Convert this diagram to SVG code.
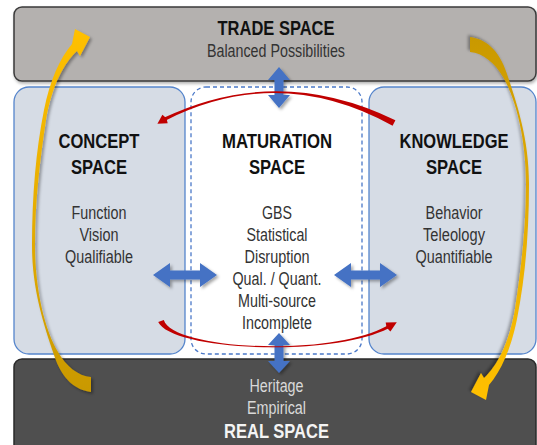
<svg xmlns="http://www.w3.org/2000/svg" xmlns:xlink="http://www.w3.org/1999/xlink" width="537" height="445" viewBox="0 0 537 445">
<defs>
<style>
.hdr{font-family:"Liberation Sans Narrow","Liberation Sans",Arial,sans-serif;font-weight:bold;font-size:20px;fill:#111;text-anchor:middle}
.body{font-family:"Liberation Sans Narrow","Liberation Sans",Arial,sans-serif;font-size:17.5px;fill:#333;text-anchor:middle}
.lite{fill:#d9d9d9}
.white{fill:#f4f4f4}
.side{fill:#d6dce5;stroke:#5585cc;stroke-width:1.3}
.mid{fill:#ffffff;stroke:#4a78c8;stroke-width:1.3;stroke-dasharray:4 3}
.blue{fill:#4472c4;filter:url(#sh)}
.red{fill:#c00000}
</style>
<filter id="sh" x="-20%" y="-20%" width="150%" height="150%">
<feDropShadow dx="2" dy="2" stdDeviation="1.5" flood-color="#000" flood-opacity="0.35"/>
</filter>
<filter id="bsh" x="-5%" y="-5%" width="110%" height="120%">
<feDropShadow dx="1" dy="2" stdDeviation="1.5" flood-color="#000" flood-opacity="0.3"/>
</filter>
<linearGradient id="gold" gradientUnits="userSpaceOnUse" x1="0" y1="30" x2="0" y2="392">
<stop offset="0" stop-color="#ffc000"/>
<stop offset="0.5" stop-color="#e6ad00"/>
<stop offset="1" stop-color="#c99900"/>
</linearGradient>
<path id="yarrow" d="M90,37 L80,56 L77,51 C64,63 52,85 46,120 C40,160 35,200 35,245 C35,290 45,330 58,352 C66,366 78,376 91,377 L91,392 C76,390 62,380 54,355 C44,325 32,290 32,245 C32,195 36,150 44,110 C50,80 60,58 72,44 L75,29 Z"/>
</defs>

<g id="trade">
<rect x="14" y="7" width="522" height="74" rx="8" fill="#b4b1af" stroke="#3a3a3a" stroke-width="1.5" filter="url(#bsh)"/>
<text class="hdr" x="276" y="35" textLength="117" lengthAdjust="spacingAndGlyphs">TRADE SPACE</text>
<text class="body" x="276" y="57" textLength="138" lengthAdjust="spacingAndGlyphs">Balanced Possibilities</text>
</g>

<g id="real">
<rect x="14" y="359" width="522" height="94" rx="8" fill="#4f4f4f" stroke="#2a2a2a" stroke-width="1.5"/>
<text class="body lite" x="276.5" y="392" textLength="54" lengthAdjust="spacingAndGlyphs">Heritage</text>
<text class="body lite" x="276.5" y="414" textLength="59" lengthAdjust="spacingAndGlyphs">Empirical</text>
<text class="hdr white" x="276.5" y="438" textLength="105" lengthAdjust="spacingAndGlyphs">REAL SPACE</text>
</g>

<g id="concept">
<rect class="side" x="14" y="87" width="171" height="267" rx="15"/>
<text class="hdr" x="99" y="147.5" textLength="81" lengthAdjust="spacingAndGlyphs">CONCEPT</text>
<text class="hdr" x="99" y="174" textLength="56" lengthAdjust="spacingAndGlyphs">SPACE</text>
<text class="body" x="99" y="218.5" textLength="55" lengthAdjust="spacingAndGlyphs">Function</text>
<text class="body" x="99" y="240.5" textLength="39" lengthAdjust="spacingAndGlyphs">Vision</text>
<text class="body" x="99" y="262.5" textLength="68" lengthAdjust="spacingAndGlyphs">Qualifiable</text>
</g>

<g id="maturation">
<rect class="mid" x="191" y="87" width="171" height="267" rx="15"/>
<text class="hdr" x="277" y="147.5" textLength="110" lengthAdjust="spacingAndGlyphs">MATURATION</text>
<text class="hdr" x="277" y="174" textLength="56" lengthAdjust="spacingAndGlyphs">SPACE</text>
<text class="body" x="277" y="218.5" textLength="30" lengthAdjust="spacingAndGlyphs">GBS</text>
<text class="body" x="277" y="240.5" textLength="61" lengthAdjust="spacingAndGlyphs">Statistical</text>
<text class="body" x="277" y="262.5" textLength="65" lengthAdjust="spacingAndGlyphs">Disruption</text>
<text class="body" x="277" y="284.5" textLength="89" lengthAdjust="spacingAndGlyphs">Qual. / Quant.</text>
<text class="body" x="277" y="306.5" textLength="78" lengthAdjust="spacingAndGlyphs">Multi-source</text>
<text class="body" x="277" y="328.5" textLength="70" lengthAdjust="spacingAndGlyphs">Incomplete</text>
</g>

<g id="knowledge">
<rect class="side" x="369" y="87" width="167" height="267" rx="15"/>
<text class="hdr" x="454" y="147.5" textLength="109" lengthAdjust="spacingAndGlyphs">KNOWLEDGE</text>
<text class="hdr" x="454" y="174" textLength="56" lengthAdjust="spacingAndGlyphs">SPACE</text>
<text class="body" x="454" y="218.5" textLength="57" lengthAdjust="spacingAndGlyphs">Behavior</text>
<text class="body" x="454" y="240.5" textLength="62" lengthAdjust="spacingAndGlyphs">Teleology</text>
<text class="body" x="454" y="262.5" textLength="77" lengthAdjust="spacingAndGlyphs">Quantifiable</text>
</g>

<g id="connectors">
<path class="blue" d="M279,67 L290,80 L283.5,80 L283.5,95 L290,95 L279,108 L268,95 L274.5,95 L274.5,80 L268,80 Z"/>
<path class="blue" d="M279,333 L290,345 L283.5,345 L283.5,361 L290,361 L279,373 L268,361 L274.5,361 L274.5,345 L268,345 Z"/>
<path class="blue" d="M153,275 L170,263 L170,270.5 L200,270.5 L200,263 L217,275 L200,287 L200,279.5 L170,279.5 L170,287 Z"/>
<path class="blue" d="M334,275 L351,263 L351,270.5 L380,270.5 L380,263 L397,275 L380,287 L380,279.5 L351,279.5 L351,287 Z"/>
<path class="red" d="M395.4,120.3 Q278.5,63.7 164.3,117.6 L165.7,120.4 Q278.5,63.2 392.6,125.7 Z"/>
<path class="red" d="M157.4,123.8 L162.4,114.8 L166.5,118.2 L167.7,123.2 Z"/>
<path class="red" d="M163.8,319.9 C172.5,349.5 330,357.8 387.3,325.7 L388.7,328.3 C330,358.2 171.5,350.5 158.2,322.1 Z"/>
<path class="red" d="M396.8,322.3 L385.7,322.6 L386.5,327.5 L390.4,331.4 Z"/>
<use xlink:href="#yarrow" fill="url(#gold)" filter="url(#sh)"/>
<use xlink:href="#yarrow" fill="url(#gold)" filter="url(#sh)" transform="rotate(180 280.5 214.5)"/>
</g>
</svg>
